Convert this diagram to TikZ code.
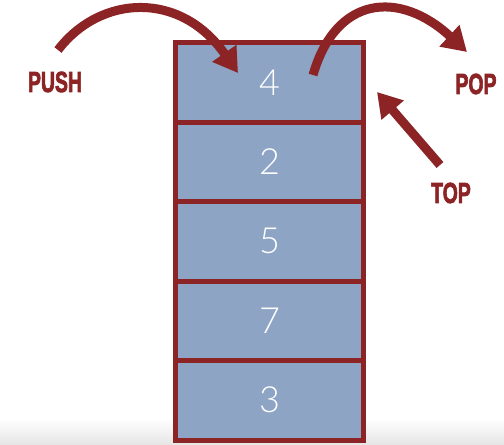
\documentclass[tikz,border=0pt]{standalone}
\usepackage{fontspec}
\usepackage{graphicx}
\usetikzlibrary{arrows.meta}
\setmainfont{Liberation Sans}
\newfontfamily\numfont{Lato Light}
\newfontfamily\labelfont{Liberation Sans Bold}[FakeBold=3]
\definecolor{stackred}{HTML}{8C2324}
\definecolor{cellblue}{HTML}{8DA4C4}
\tikzset{
  cell/.style={draw=stackred, line width=5pt, fill=cellblue,
    minimum width=188pt, minimum height=79.5pt, inner sep=0pt,
    text=white, font=\numfont\fontsize{36}{36}\selectfont},
  oplabel/.style={text=stackred, inner sep=0pt},
  bigarrow/.style={draw=stackred, line width=9pt,
    -{Triangle[length=24pt,width=28pt]}},
}
\newcommand{\oplabeltext}[1]{\scalebox{0.67}[1]{\labelfont\fontsize{29}{29}\selectfont #1}}
\begin{document}
\begin{tikzpicture}[x=1pt,y=-1pt]
  \useasboundingbox (0,0) rectangle (504,445);
  % faint floor shadow
  \shade[top color=white, bottom color=black!10] (0,418) rectangle (504,445);

  % the stack cells, top to bottom
  \node[cell] (c1) at (269.5,82.25)  {4};
  \node[cell] (c2) at (269.5,161.75) {2};
  \node[cell] (c3) at (269.5,241.25) {5};
  \node[cell] (c4) at (269.5,320.75) {7};
  \node[cell] (c5) at (269.5,400.25) {3};

  % operation labels
  \node[oplabel] (push) at (55,82)  {\oplabeltext{PUSH}};
  \node[oplabel] (pop)  at (476,84) {\oplabeltext{POP}};
  \node[oplabel] (top)  at (451,193) {\oplabeltext{TOP}};

  % arrow end points
  \coordinate (pushtail) at (58,50);
  \coordinate (pushtip)  at (238,73);
  \coordinate (poptail)  at (313,75);
  \coordinate (poptip)   at (467,52);
  \coordinate (toptail)  at (440,165);
  \coordinate (toptip)   at (377,92);

  \draw[bigarrow] (pushtail) .. controls (100,-5) and (180,-10) .. (pushtip);
  \draw[bigarrow] (poptail) .. controls (336,-5) and (400,-10) .. (poptip);
  \draw[bigarrow] (toptail) -- (toptip);
\end{tikzpicture}
\end{document}
